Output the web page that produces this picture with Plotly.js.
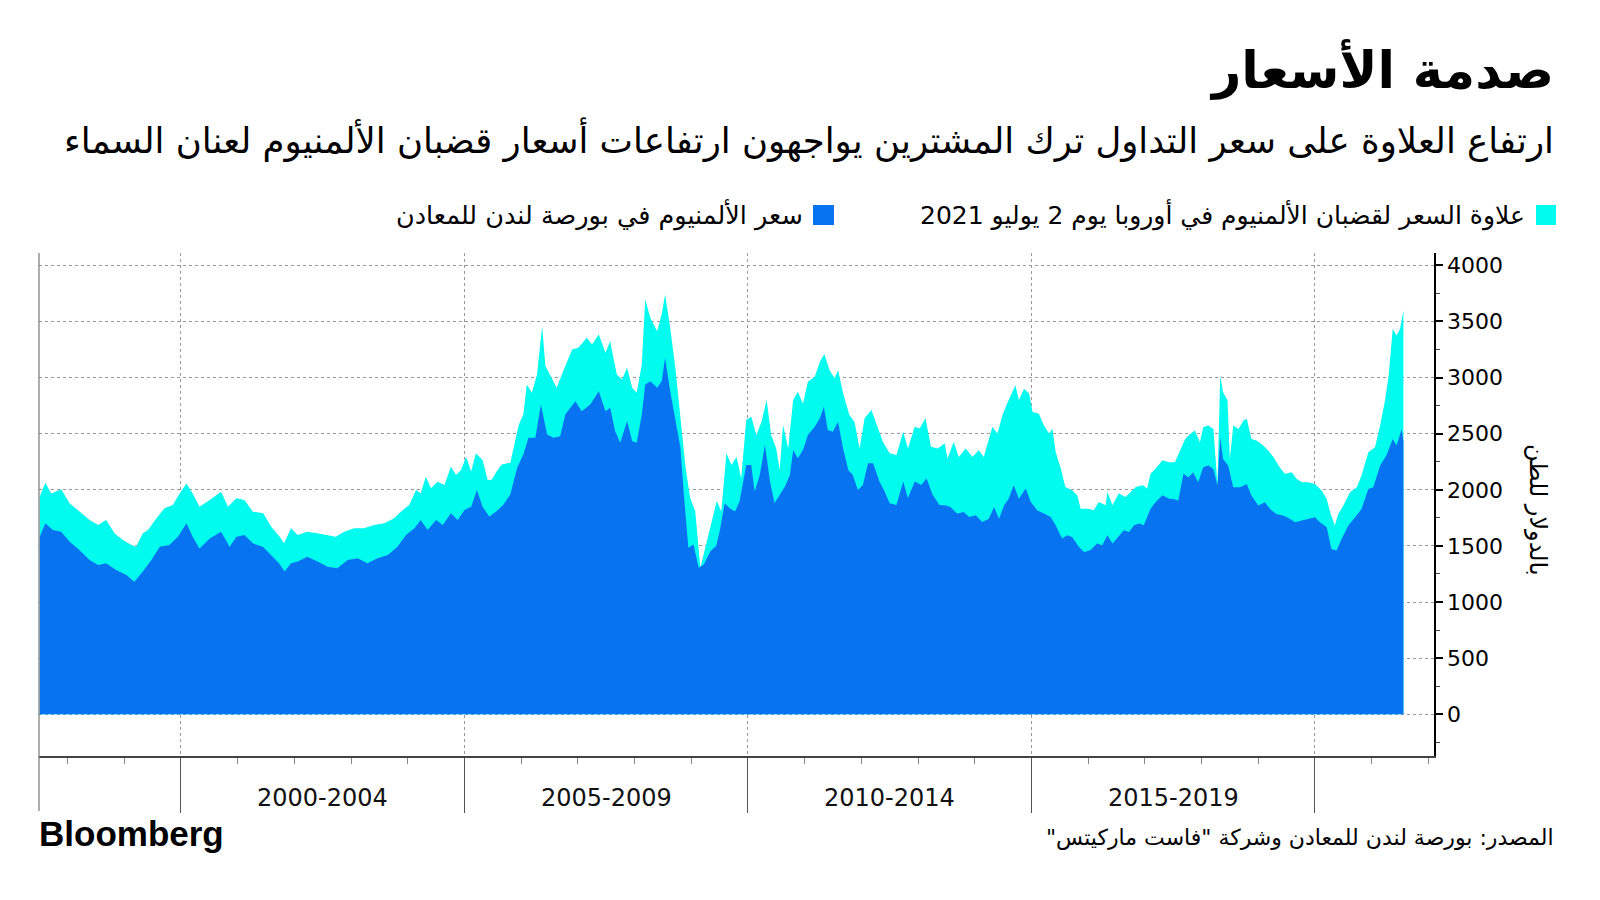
<!DOCTYPE html>
<html>
<head>
<meta charset="utf-8">
<script src="https://cdn.plot.ly/plotly-3.0.1.min.js"></script>
<style>html,body{margin:0;padding:0;background:#fff;}#chart{width:1600px;height:900px;}</style>
</head>
<body>
<div id="chart"></div>
<script>
// Top of the cyan area: LME price + European billet premium (USD/t), decimal-year dates
const totalDates = [1997.51,1997.61,1997.71,1997.89,1998.04,1998.21,1998.39,1998.54,1998.68,1998.83,1998.98,1999.13,1999.21,1999.33,1999.42,1999.57,1999.71,1999.86,1999.98,2000.10,2000.21,2000.33,2000.51,2000.71,2000.83,2000.98,2001.12,2001.27,2001.45,2001.59,2001.74,2001.82,2001.94,2002.06,2002.23,2002.41,2002.59,2002.73,2002.88,2003.06,2003.23,2003.41,2003.59,2003.76,2003.88,2004.03,2004.15,2004.23,2004.32,2004.41,2004.53,2004.65,2004.76,2004.85,2004.94,2005.03,2005.12,2005.20,2005.32,2005.41,2005.48,2005.57,2005.66,2005.81,2005.96,2006.04,2006.10,2006.19,2006.28,2006.37,2006.43,2006.52,2006.63,2006.72,2006.81,2006.90,2007.01,2007.16,2007.25,2007.37,2007.49,2007.57,2007.69,2007.78,2007.87,2007.96,2008.04,2008.13,2008.19,2008.28,2008.40,2008.48,2008.54,2008.63,2008.72,2008.81,2008.90,2008.98,2009.07,2009.16,2009.25,2009.34,2009.45,2009.53,2009.62,2009.71,2009.80,2009.88,2009.97,2010.06,2010.15,2010.24,2010.33,2010.41,2010.50,2010.56,2010.62,2010.71,2010.80,2010.88,2010.97,2011.06,2011.18,2011.27,2011.35,2011.44,2011.53,2011.59,2011.68,2011.79,2011.88,2011.97,2012.06,2012.18,2012.27,2012.38,2012.50,2012.62,2012.74,2012.82,2012.94,2013.03,2013.13,2013.23,2013.35,2013.47,2013.52,2013.63,2013.72,2013.84,2013.96,2014.07,2014.16,2014.31,2014.40,2014.49,2014.57,2014.66,2014.72,2014.78,2014.87,2014.96,2015.02,2015.13,2015.22,2015.31,2015.37,2015.43,2015.52,2015.60,2015.72,2015.81,2015.87,2015.99,2016.10,2016.19,2016.31,2016.34,2016.43,2016.54,2016.66,2016.75,2016.84,2016.96,2017.04,2017.10,2017.19,2017.31,2017.43,2017.53,2017.65,2017.71,2017.80,2017.88,2017.97,2018.03,2018.12,2018.21,2018.28,2018.33,2018.38,2018.46,2018.50,2018.56,2018.65,2018.74,2018.80,2018.88,2018.97,2019.09,2019.18,2019.27,2019.38,2019.47,2019.59,2019.68,2019.77,2019.88,2020.00,2020.12,2020.21,2020.27,2020.35,2020.41,2020.50,2020.62,2020.74,2020.82,2020.94,2021.06,2021.15,2021.24,2021.30,2021.37,2021.44,2021.50,2021.56];
const totalValues = [1940,2063,1968,2004,1879,1805,1731,1686,1731,1612,1553,1508,1493,1612,1642,1746,1835,1864,1968,2057,1968,1850,1909,1983,1850,1924,1909,1805,1790,1672,1582,1523,1657,1597,1627,1612,1597,1582,1627,1657,1657,1686,1701,1746,1805,1865,1998,1969,2117,2013,2072,2043,2206,2132,2176,2295,2162,2325,2265,2087,2090,2166,2226,2241,2582,2671,2938,2864,3028,3458,3102,3013,2909,3028,3146,3250,3265,3354,3295,3384,3221,3324,3028,2983,3087,2909,2864,3117,3696,3532,3413,3562,3740,3443,3087,2612,2196,1929,1810,1305,1483,1661,1900,1806,2325,2221,2295,2102,2622,2652,2488,2607,2800,2488,2369,2177,2577,2369,2800,2874,2770,2963,3008,3141,3210,3067,2993,3067,2859,2666,2607,2369,2637,2711,2577,2429,2325,2310,2518,2369,2562,2547,2637,2384,2369,2414,2278,2426,2293,2367,2293,2352,2293,2560,2501,2664,2768,2857,2931,2797,2901,2857,2694,2679,2575,2501,2545,2337,2189,2025,1996,1951,1832,1832,1818,1892,1862,1981,1862,1966,1936,1981,2025,2040,2011,2144,2189,2263,2245,2245,2394,2453,2498,2528,2424,2557,2572,2542,2052,3018,2869,2795,2275,2572,2542,2617,2632,2453,2439,2394,2349,2290,2201,2142,2156,2097,2067,2067,2052,1993,1919,1800,1681,1785,1859,1978,2023,2127,2335,2379,2572,2810,3018,3433,3374,3433,3597];

// LME aluminium cash price (USD/t), decimal-year dates
const lmeDates = [1997.51,1997.61,1997.74,1997.89,1998.04,1998.21,1998.39,1998.54,1998.68,1998.86,1999.04,1999.18,1999.33,1999.48,1999.63,1999.80,1999.95,2000.10,2000.21,2000.33,2000.51,2000.71,2000.86,2000.98,2001.12,2001.27,2001.45,2001.59,2001.73,2001.83,2001.94,2002.06,2002.23,2002.41,2002.59,2002.76,2002.94,2003.12,2003.29,2003.47,2003.65,2003.82,2003.97,2004.12,2004.23,2004.35,2004.50,2004.62,2004.76,2004.88,2005.00,2005.12,2005.22,2005.32,2005.44,2005.57,2005.69,2005.81,2005.93,2006.04,2006.13,2006.25,2006.35,2006.46,2006.57,2006.69,2006.78,2006.87,2006.96,2007.07,2007.22,2007.37,2007.49,2007.57,2007.66,2007.75,2007.87,2007.96,2008.04,2008.13,2008.19,2008.28,2008.40,2008.48,2008.54,2008.63,2008.72,2008.81,2008.87,2008.95,2009.04,2009.13,2009.22,2009.34,2009.44,2009.50,2009.59,2009.68,2009.77,2009.85,2009.97,2010.06,2010.12,2010.21,2010.30,2010.39,2010.47,2010.56,2010.65,2010.74,2010.80,2010.88,2010.97,2011.06,2011.18,2011.27,2011.34,2011.41,2011.50,2011.59,2011.68,2011.77,2011.85,2011.94,2012.03,2012.12,2012.21,2012.32,2012.41,2012.50,2012.62,2012.74,2012.82,2012.94,2013.06,2013.15,2013.26,2013.38,2013.49,2013.57,2013.69,2013.81,2013.90,2014.02,2014.13,2014.25,2014.34,2014.43,2014.52,2014.60,2014.69,2014.78,2014.90,2014.99,2015.10,2015.22,2015.34,2015.43,2015.54,2015.63,2015.72,2015.84,2015.93,2016.04,2016.16,2016.25,2016.34,2016.43,2016.51,2016.63,2016.72,2016.81,2016.90,2016.98,2017.10,2017.19,2017.31,2017.43,2017.50,2017.59,2017.68,2017.77,2017.85,2017.94,2018.03,2018.12,2018.21,2018.28,2018.33,2018.38,2018.47,2018.56,2018.68,2018.80,2018.88,2019.00,2019.12,2019.21,2019.32,2019.44,2019.56,2019.65,2019.77,2019.88,2020.00,2020.09,2020.21,2020.29,2020.38,2020.47,2020.59,2020.71,2020.82,2020.94,2021.03,2021.15,2021.26,2021.37,2021.44,2021.53,2021.56];
const lmeValues = [1582,1701,1642,1627,1538,1464,1375,1330,1345,1285,1241,1181,1271,1375,1493,1508,1582,1701,1582,1478,1567,1627,1493,1582,1597,1523,1490,1419,1345,1271,1345,1360,1404,1360,1315,1300,1375,1389,1345,1389,1419,1493,1597,1657,1731,1642,1731,1686,1790,1731,1820,1850,1998,1850,1761,1810,1869,1958,2196,2315,2463,2463,2760,2493,2463,2478,2671,2730,2790,2701,2760,2879,2701,2730,2523,2419,2612,2434,2419,2671,2938,2968,2909,2968,3176,2879,2612,2374,1958,1483,1513,1305,1335,1454,1500,1627,1880,1835,1806,1894,2221,2221,1984,2132,2399,2073,1880,1954,2028,2132,2355,2281,2355,2488,2562,2637,2741,2532,2518,2607,2369,2177,2132,1999,2043,2236,2236,2073,1984,1880,1865,2073,1924,2073,2043,2102,1954,1865,1860,1847,1788,1803,1758,1773,1714,1743,1847,1743,1862,1921,2040,1921,2011,1892,1818,1788,1758,1684,1565,1595,1580,1491,1446,1461,1521,1506,1595,1521,1565,1639,1625,1684,1699,1684,1832,1892,1951,1921,1919,1904,2142,2112,2156,2067,2201,2216,2186,2038,2468,2275,2216,2023,2023,2052,1949,1859,1889,1830,1785,1770,1741,1711,1726,1741,1756,1711,1666,1473,1459,1562,1681,1756,1830,2008,2023,2216,2305,2453,2394,2542,2438];

// Axis ticks and labels
const periodStartYears = [2000, 2005, 2010, 2015];
const periodLabels = ['2000-2004', '2005-2009', '2010-2014', '2015-2019'];
const yTickValues = [0, 500, 1000, 1500, 2000, 2500, 3000, 3500, 4000];

// Texts
const titleText = 'صدمة الأسعار';
const subtitleText = 'ارتفاع العلاوة على سعر التداول ترك المشترين يواجهون ارتفاعات أسعار قضبان الألمنيوم لعنان السماء';
const legendPremium = 'علاوة السعر لقضبان الألمنيوم في أوروبا يوم 2 يوليو 2021';
const legendLme = 'سعر الألمنيوم في بورصة لندن للمعادن';
const yTitleText = 'بالدولار للطن';
const sourceText = 'المصدر: بورصة لندن للمعادن وشركة "فاست ماركيتس"\u200F';

const COL_LME = '#0873F0';
const COL_PREM = '#00FCEF';

function toDate(t) {
  const y = Math.floor(t);
  const s = Date.UTC(y, 0, 1), e = Date.UTC(y + 1, 0, 1);
  const d = new Date(s + (t - y) * (e - s));
  return d.toISOString().slice(0, 10);
}

const L = 39, R = 1434, T = 253, B = 756;
const W = R - L, H = B - T;
const px = x => (x - L) / W;
const py = y => (B - y) / H;

const arabicFont = 'DejaVu Sans, Noto Sans, sans-serif';

const traces = [
  {
    x: totalDates.map(toDate), y: totalValues, type: 'scatter', mode: 'lines',
    line: {width: 0, color: COL_PREM}, fill: 'tozeroy', fillcolor: COL_PREM,
    showlegend: false, hoverinfo: 'skip'
  },
  {
    x: lmeDates.map(toDate), y: lmeValues, type: 'scatter', mode: 'lines',
    line: {width: 0, color: COL_LME}, fill: 'tozeroy', fillcolor: COL_LME,
    showlegend: false, hoverinfo: 'skip'
  }
];

const annotations = [];
periodStartYears.forEach((yr, i) => {
  annotations.push({
    x: toDate(yr + 2.5), xref: 'x', y: py(798), yref: 'paper',
    text: periodLabels[i], showarrow: false, xanchor: 'center', yanchor: 'middle',
    font: {family: 'DejaVu Sans, sans-serif', size: 24, color: '#111'}
  });
});
annotations.push(
  {x: px(1556), y: py(70), xref: 'paper', yref: 'paper', text: '<b>' + titleText + '</b>',
   showarrow: false, xanchor: 'right', yanchor: 'middle',
   font: {family: arabicFont, size: 51, color: '#000'}},
  {x: px(1556), y: py(139), xref: 'paper', yref: 'paper', text: subtitleText,
   showarrow: false, xanchor: 'right', yanchor: 'middle',
   font: {family: arabicFont, size: 35.5, color: '#000'}},
  {x: px(1527), y: py(215), xref: 'paper', yref: 'paper', text: legendPremium,
   showarrow: false, xanchor: 'right', yanchor: 'middle',
   font: {family: arabicFont, size: 25, color: '#000'}},
  {x: px(805), y: py(215), xref: 'paper', yref: 'paper', text: legendLme,
   showarrow: false, xanchor: 'right', yanchor: 'middle',
   font: {family: arabicFont, size: 25.5, color: '#000'}},
  {x: px(1538), y: py(510), xref: 'paper', yref: 'paper', text: yTitleText,
   showarrow: false, xanchor: 'center', yanchor: 'middle', textangle: 90,
   font: {family: arabicFont, size: 24, color: '#000'}},
  {x: px(1556), y: py(838), xref: 'paper', yref: 'paper', text: sourceText,
   showarrow: false, xanchor: 'right', yanchor: 'middle',
   font: {family: arabicFont, size: 22, color: '#000'}},
  {x: px(37), y: py(833), xref: 'paper', yref: 'paper', text: '<b>Bloomberg</b>',
   showarrow: false, xanchor: 'left', yanchor: 'middle',
   font: {family: 'Liberation Sans, Arial, sans-serif', size: 35, color: '#000'}}
);

const shapes = [
  {type: 'rect', xref: 'paper', yref: 'paper', x0: px(1536), x1: px(1556), y0: py(225), y1: py(205),
   fillcolor: COL_PREM, line: {width: 0}},
  {type: 'rect', xref: 'paper', yref: 'paper', x0: px(813), x1: px(834), y0: py(225), y1: py(205),
   fillcolor: COL_LME, line: {width: 0}},
  {type: 'line', xref: 'paper', yref: 'paper', x0: 0, x1: 0, y0: py(811), y1: 1,
   line: {color: '#777', width: 1.2}}
];

const layout = {
  width: 1600, height: 900,
  margin: {l: L, r: 1600 - R, t: T, b: 900 - B, pad: 0},
  paper_bgcolor: '#fff', plot_bgcolor: '#fff',
  showlegend: false,
  xaxis: {
    type: 'date', range: ['1997-07-01', '2022-02-06'],
    tickmode: 'linear', tick0: '2000-01-01', dtick: 'M60',
    showticklabels: false, ticks: 'outside', ticklen: 55, tickcolor: '#555', tickwidth: 1,
    showgrid: true, griddash: 'dot', gridcolor: '#999', gridwidth: 1,
    showline: true, linecolor: '#444', linewidth: 1.5,
    zeroline: false, fixedrange: true,
    minor: {tickmode: 'linear', tick0: '1998-01-01', dtick: 'M12', ticks: 'outside', ticklen: 6, tickcolor: '#888', tickwidth: 1, showgrid: false}
  },
  yaxis: {
    side: 'right', range: [-372, 4110],
    tickmode: 'array', tickvals: yTickValues, ticktext: yTickValues.map(String),
    ticks: 'outside', ticklen: 7, tickwidth: 2, tickcolor: '#000',
    tickfont: {family: 'DejaVu Sans, sans-serif', size: 22, color: '#000'},
    showgrid: true, griddash: 'dot', gridcolor: '#999', gridwidth: 1,
    showline: true, linecolor: '#000', linewidth: 1.5,
    zeroline: false, fixedrange: true,
    minor: {tickmode: 'linear', tick0: 0, dtick: 250, ticks: 'outside', ticklen: 4, tickcolor: '#444', tickwidth: 1, showgrid: false}
  },
  annotations: annotations,
  shapes: shapes
};

Plotly.newPlot('chart', traces, layout, {displayModeBar: false, staticPlot: true});
</script>
</body>
</html>
